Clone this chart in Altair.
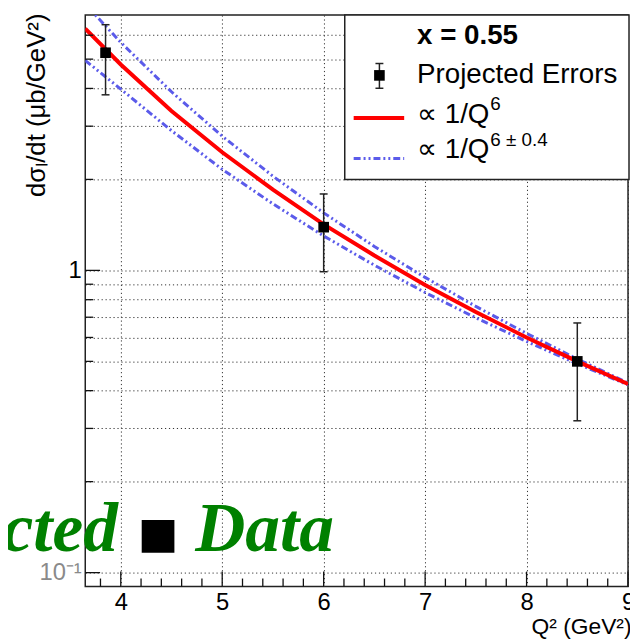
import altair as alt
import pandas as pd

# ---- data ----
q2_points = [3.85, 6.0, 8.5]
sigma_points = [5.25, 1.39, 0.50]
err_high = [6.5, 1.79, 0.67]
err_low = [3.81, 0.99, 0.318]

q2_curve = [3.65, 4.0, 4.5, 5.0, 5.5, 6.0, 6.5, 7.0, 7.5, 8.0, 8.5, 9.0]
sigma_q6 = [6.31, 4.80, 3.37, 2.46, 1.85, 1.42, 1.12, 0.895, 0.728, 0.600, 0.500, 0.421]
sigma_upper = [7.61, 5.68, 3.90, 2.78, 2.05, 1.55, 1.20, 0.948, 0.760, 0.619, 0.509, 0.424]
sigma_lower = [4.95, 3.98, 2.90, 2.16, 1.66, 1.30, 1.04, 0.845, 0.697, 0.582, 0.491, 0.418]

x_major = [4, 5, 6, 7, 8, 9]
x_minor = [3.8, 4.2, 4.4, 4.6, 4.8, 5.2, 5.4, 5.6, 5.8, 6.2, 6.4, 6.6, 6.8,
           7.2, 7.4, 7.6, 7.8, 8.2, 8.4, 8.6, 8.8]
y_major = [0.1, 1]
y_minor = [0.2, 0.3, 0.4, 0.5, 0.6, 0.7, 0.8, 0.9, 2, 3, 4, 5, 6]
y_grid = [0.1, 0.2, 0.3, 0.4, 0.5, 0.6, 0.7, 0.8, 0.9, 1, 2, 3, 4, 5, 6]

legend_title = "x = 0.55"
legend_labels = ["Projected Errors", "\u221d 1/Q", "\u221d 1/Q"]
legend_supers = ["", "6", "6 \u00b1 0.4"]
overlay_words = ["Projected", "Data"]

W, H = 548, 577
SANS = "Liberation Sans"
BLUE = "#5b5bea"
DASH = [7, 3, 2, 3, 2, 3]

xs = alt.Scale(domain=[3.65, 9.0], nice=False, zero=False)
ys = alt.Scale(type="log", domain=[0.09, 7.0], nice=False)

x_main_axis = alt.Axis(
    orient="bottom", values=x_major, grid=True, gridDash=[1.2, 2.8], gridColor="#333",
    gridWidth=1, ticks=False, domain=False, labelFont=SANS, labelFontSize=24,
    labelColor="black", labelPadding=4, labelFlush=False, labelOverlap=False,
    title="Q\u00b2 (GeV\u00b2)", titleFont=SANS, titleFontSize=23, titleFontWeight="normal",
    titleColor="black", titleX=W + 3, titleY=40, titleLimit=200,
    titleAlign="right", titleBaseline="middle",
)
y_main_axis = alt.Axis(
    orient="left", values=y_grid, grid=True, gridDash=[1.2, 2.8], gridColor="#333",
    gridWidth=1, ticks=False, domain=False, labelFont=SANS, labelFontSize=24,
    labelColor={"condition": {"test": "datum.value < 0.5", "value": "#8a8a8a"}, "value": "black"},
    labelPadding=4, labelOverlap=False, labelFlush=False,
    labelExpr="datum.value == 1 ? '1' : (datum.value == 0.1 ? '10\u207b\u00b9' : '')",
    title="d\u03c3\u2097/dt (\u03bcb/GeV\u00b2)", titleFont=SANS, titleFontSize=26,
    titleFontWeight="normal", titleColor="black", titleAngle=270,
    titleX=-49, titleY=-2, titleAlign="right", titleBaseline="middle",
)


def X(field):
    return alt.X(field, type="quantitative", scale=xs, axis=x_main_axis)


def Y(field):
    return alt.Y(field, type="quantitative", scale=ys, axis=y_main_axis)


red_df = pd.DataFrame({"q2": q2_curve, "v": sigma_q6})
n = len(q2_curve)
blue_df = pd.DataFrame({"q2": q2_curve * 2, "v": sigma_upper + sigma_lower,
                        "s": ["up"] * n + ["lo"] * n})
pts_df = pd.DataFrame({"q2": q2_points, "v": sigma_points, "hi": err_high, "lo": err_low})

blue = alt.Chart(blue_df).mark_line(color=BLUE, strokeWidth=3, strokeDash=DASH, clip=True).encode(
    x=X("q2"), y=Y("v"), detail="s:N")
red = alt.Chart(red_df).mark_line(color="#ff0000", strokeWidth=4, clip=True).encode(
    x=X("q2"), y=Y("v"))
ebar = alt.Chart(pts_df).mark_rule(color="#222", strokeWidth=1.5).encode(
    x=X("q2"), y=Y("lo"), y2="hi:Q")
cap_hi = alt.Chart(pts_df).mark_point(shape="stroke", size=64, color="#222", strokeWidth=1.5, opacity=1).encode(
    x=X("q2"), y=Y("hi"))
cap_lo = alt.Chart(pts_df).mark_point(shape="stroke", size=64, color="#222", strokeWidth=1.5, opacity=1).encode(
    x=X("q2"), y=Y("lo"))
squares = alt.Chart(pts_df).mark_square(size=115, color="black", opacity=1).encode(
    x=X("q2"), y=Y("v"))


# inward axis ticks (ROOT style), positioned through the scales
def x_ticks(vals, length):
    return alt.Chart(pd.DataFrame({"q2": vals})).mark_rule(color="#111", strokeWidth=1.3).encode(
        x=X("q2"), y=alt.value(H), y2=alt.value(H - length))


def y_ticks(vals, length):
    return alt.Chart(pd.DataFrame({"v": vals})).mark_rule(color="#111", strokeWidth=1.3).encode(
        y=Y("v"), x=alt.value(0), x2=alt.value(length))


ticks = [x_ticks(x_minor, 8), x_ticks(x_major, 15), y_ticks(y_minor, 8), y_ticks(y_major, 15)]

one = pd.DataFrame({"a": [0]})
leg_box = alt.Chart(one).mark_rect(fill="white", stroke="#222", strokeWidth=1.5).encode(
    x=alt.value(262), x2=alt.value(W + 1), y=alt.value(0), y2=alt.value(166))


def txt(s, x, y, size, weight="normal", align="left", font=SANS, color="black", style="normal",
        baseline="middle"):
    return alt.Chart(one).mark_text(text=s, font=font, fontSize=size, fontWeight=weight,
                                    fontStyle=style, align=align, baseline=baseline,
                                    color=color).encode(x=alt.value(x), y=alt.value(y))


leg_title = txt(legend_title, 335, 21, 28, weight="bold")
leg_t1 = txt(legend_labels[0], 335, 61, 28)
leg_t2 = txt(legend_labels[1], 335, 101, 28)
leg_s2 = txt(legend_supers[1], 409, 90, 19)
leg_t3 = txt(legend_labels[2], 335, 136, 28)
leg_s3 = txt(legend_supers[2], 409, 126, 19)
leg_sq = alt.Chart(one).mark_square(size=115, color="black", opacity=1).encode(
    x=alt.value(297), y=alt.value(61))
leg_eb = alt.Chart(one).mark_rule(color="#222", strokeWidth=1.5).encode(
    x=alt.value(297), y=alt.value(49), y2=alt.value(74))
leg_c1 = alt.Chart(one).mark_rule(color="#222", strokeWidth=1.5).encode(
    x=alt.value(293), x2=alt.value(301), y=alt.value(49))
leg_c2 = alt.Chart(one).mark_rule(color="#222", strokeWidth=1.5).encode(
    x=alt.value(293), x2=alt.value(301), y=alt.value(74))
leg_red = alt.Chart(one).mark_rule(color="#ff0000", strokeWidth=4).encode(
    x=alt.value(271), x2=alt.value(322), y=alt.value(104))
leg_blue = alt.Chart(one).mark_rule(color=BLUE, strokeWidth=3, strokeDash=DASH).encode(
    x=alt.value(271), x2=alt.value(322), y=alt.value(145))

ov1 = txt(overlay_words[0], 33, 541, 70, weight="bold", align="right", font="Liberation Serif",
          color="#008000", style="italic", baseline="alphabetic")
ov2 = txt(overlay_words[1], 111, 541, 70, weight="bold", align="left", font="Liberation Serif",
          color="#008000", style="italic", baseline="alphabetic")
ov_sq = alt.Chart(one).mark_square(size=1089, color="black", opacity=1).encode(
    x=alt.value(73.5), y=alt.value(526.5))

chart = alt.layer(
    blue, red, ebar, cap_hi, cap_lo, squares, *ticks,
    leg_box, leg_title, leg_t1, leg_t2, leg_s2, leg_t3, leg_s3,
    leg_eb, leg_c1, leg_c2, leg_sq, leg_red, leg_blue,
    ov1, ov_sq, ov2,
).properties(
    width=W, height=H,
    padding={"left": 78, "top": 4, "right": 2, "bottom": 50},
    autosize=alt.AutoSizeParams(type="none"),
    background="white",
).configure_view(stroke="#222", strokeWidth=1.5)

chart.save("out.html", embed_options={"renderer": "svg", "actions": False})
